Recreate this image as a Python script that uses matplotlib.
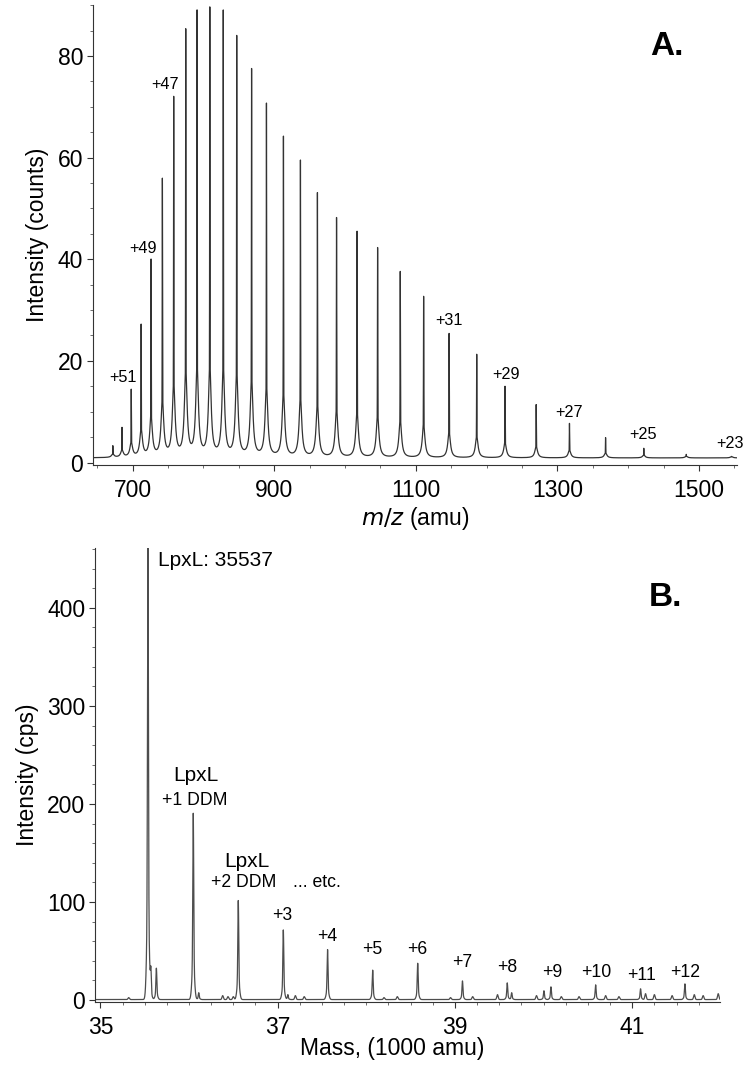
import numpy as np
import matplotlib.pyplot as plt
from matplotlib.ticker import MultipleLocator

plt.rcParams['font.family'] = ['Liberation Sans', 'DejaVu Sans']

# --- panel A: ESI charge-state envelope ---
mz_peaks = [672, 685, 698, 712, 726, 742, 758, 775, 791, 809,
            828, 847, 868, 889, 913, 937, 961, 988, 1017, 1046,
            1078, 1111, 1147, 1186, 1226, 1270, 1317, 1368, 1422, 1482,
            1546]
mz_heights = [3.3, 6.9, 14.4, 27.2, 40.0, 55.9, 72.0, 85.3, 89.0, 89.6,
              89.0, 84.0, 77.5, 70.7, 64.2, 59.5, 53.1, 48.2, 45.5, 42.3,
              37.6, 32.7, 25.4, 21.3, 15.0, 11.4, 7.7, 4.9, 2.8, 1.6,
              1.2]
charge_labels = ['+51', '+49', '+47', '+31', '+29', '+27', '+25', '+23']
charge_label_xy = [(686.6, 16.8), (714.8, 42.2), (745.9, 74.3), (1147, 28.0),
                   (1227.5, 17.4), (1316.5, 9.9), (1421, 5.6), (1543.9, 3.8)]

# --- panel B: deconvoluted mass spectrum ---
mass_peaks = [35.537, 35.57, 35.632, 36.048, 36.11, 36.556, 37.064, 37.115,
              37.563, 38.072, 38.58, 39.085, 39.59, 39.64, 40.004, 40.083,
              40.587, 41.094, 41.594]
mass_heights = [470, 28, 32, 190, 7, 101, 71, 5,
                51, 30, 37, 19, 17, 7, 9, 13,
                15, 11, 16]
# small bumps in the baseline
bump_mass = [35.32, 36.38, 36.44, 36.50, 37.20, 37.30, 38.20, 38.35, 38.95,
             39.20, 39.48, 39.92, 40.20, 40.40, 40.70, 40.85, 41.15, 41.25,
             41.45, 41.70, 41.80, 41.97]
bump_heights = [2, 4, 3, 3, 4, 3, 2, 3, 2,
                3, 5, 4, 3, 3, 4, 3, 6, 5,
                4, 5, 4, 6]
mass_labels = ['+3', '+4', '+5', '+6', '+7', '+8', '+9', '+10', '+11', '+12']
mass_label_xy = [(37.051, 86.7), (37.558, 65.3), (38.066, 52), (38.573, 52),
                 (39.08, 38.8), (39.587, 33.7), (40.094, 28.6), (40.59, 28.6),
                 (41.10, 25.5), (41.596, 28.6)]


def lorentz(x, c, w):
    return w ** 2 / ((x - c) ** 2 + w ** 2)


def gauss(x, c, s):
    return np.exp(-0.5 * ((x - c) / s) ** 2)


fig = plt.figure(figsize=(7.5, 10.75), dpi=100)
axA = fig.add_axes([0.124, 0.5674, 0.859, 0.428])
axB = fig.add_axes([0.1267, 0.0679, 0.8333, 0.4223])

# trace A: sharp peak on top of a broad cusp-shaped base
xa = np.arange(644, 1554, 0.05)
narrow = np.zeros_like(xa)
broad = np.full_like(xa, 0.9)
for c, h in zip(mz_peaks, mz_heights):
    narrow += h * lorentz(xa, c, 0.3)
    broad += 0.2 * h * lorentz(xa, c, 2.2)
ya = np.maximum(narrow, broad)
axA.plot(xa, ya, color='#333333', lw=0.9)

axA.set_xlim(644, 1554)
axA.set_ylim(-0.5, 90.05)
axA.set_xticks([700, 900, 1100, 1300, 1500])
axA.xaxis.set_minor_locator(MultipleLocator(50))
axA.yaxis.set_major_locator(MultipleLocator(20))
axA.yaxis.set_minor_locator(MultipleLocator(5))
axA.set_xlabel(r'$\it{m/z}$ (amu)', fontsize=16.5, labelpad=2)
axA.set_ylabel('Intensity (counts)', fontsize=16.5, labelpad=6)
for t, (x, y) in zip(charge_labels, charge_label_xy):
    axA.text(x, y, t, fontsize=11.7, ha='center', va='center')
axA.text(0.891, 0.909, 'A.', transform=axA.transAxes, fontsize=24,
         fontweight='bold', ha='center', va='center')

# trace B
xb = np.arange(34.94, 41.99, 0.001)
yb = np.full_like(xb, 0.5)
for c, h in zip(mass_peaks, mass_heights):
    yb += h * (0.8 * gauss(xb, c, 0.005) + 0.2 * gauss(xb, c, 0.014))
for c, h in zip(bump_mass, bump_heights):
    yb += h * gauss(xb, c, 0.008)
axB.plot(xb, yb, color='#4d4d4d', lw=0.9)

axB.set_xlim(34.94, 41.99)
axB.set_ylim(-2, 461)
axB.set_xticks([35, 37, 39, 41])
axB.xaxis.set_minor_locator(MultipleLocator(0.25))
axB.yaxis.set_major_locator(MultipleLocator(100))
axB.yaxis.set_minor_locator(MultipleLocator(20))
axB.set_xlabel('Mass, (1000 amu)', fontsize=16.5)
axB.xaxis.set_label_coords(0.475, -0.077)
axB.xaxis.label.set_va('top')
axB.set_ylabel('Intensity (cps)', fontsize=16.5, labelpad=6)

axB.text(35.654, 448.7, 'LpxL: 35537', fontsize=15, ha='left', va='center')
axB.text(36.082, 229.5, 'LpxL', fontsize=15, ha='center', va='center')
axB.text(36.06, 204, '+1 DDM', fontsize=12.7, ha='center', va='center')
axB.text(36.657, 141.8, 'LpxL', fontsize=15, ha='center', va='center')
axB.text(36.612, 119.4, '+2 DDM', fontsize=12.7, ha='center', va='center')
axB.text(37.446, 119.4, '... etc.', fontsize=12.7, ha='center', va='center')
for t, (x, y) in zip(mass_labels, mass_label_xy):
    axB.text(x, y, t, fontsize=12.7, ha='center', va='center')
axB.text(0.912, 0.89, 'B.', transform=axB.transAxes, fontsize=24,
         fontweight='bold', ha='center', va='center')

for ax in (axA, axB):
    for s in ('top', 'right'):
        ax.spines[s].set_visible(False)
    for s in ('left', 'bottom'):
        ax.spines[s].set_color('#333333')
        ax.spines[s].set_linewidth(0.8)
    ax.tick_params(which='major', length=4, width=0.8, color='#333333',
                   labelsize=16.5, pad=3)
    ax.tick_params(which='minor', length=2.5, width=0.6, color='#555555')
    ax.tick_params(axis='x', which='major', pad=6)

fig.savefig('out.png', dpi=100)
